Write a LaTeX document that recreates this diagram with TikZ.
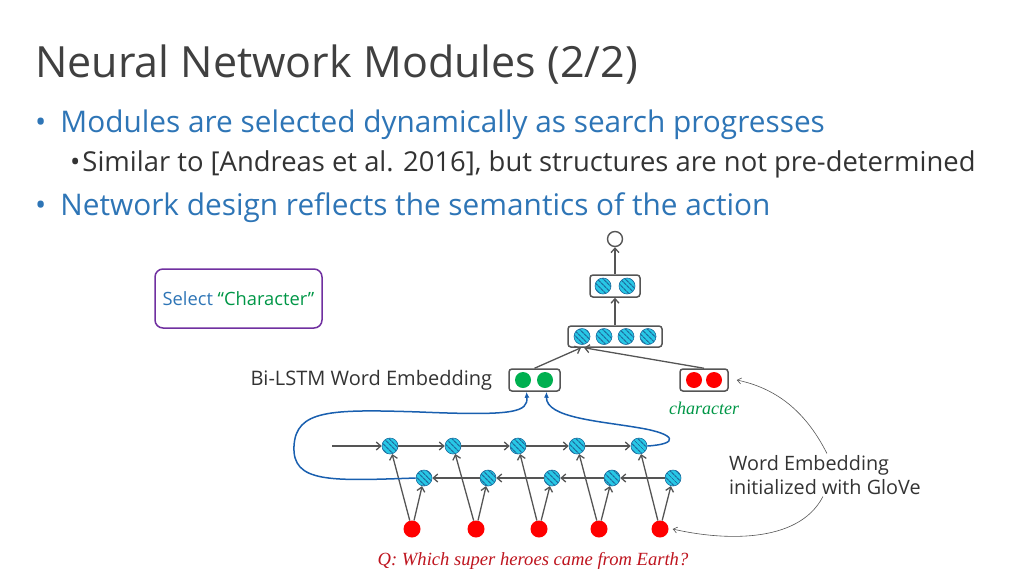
\documentclass[tikz,border=0pt]{standalone}
\usepackage{fontspec}
\setmainfont{Open Sans}
\newfontfamily\timesfont{Liberation Serif}
\usetikzlibrary{arrows.meta,patterns.meta,positioning}

\definecolor{titlegray}{RGB}{64,64,64}
\definecolor{slideblue}{RGB}{46,117,182}
\definecolor{textgray}{RGB}{51,51,51}
\definecolor{linegray}{RGB}{85,85,85}
\definecolor{hcyan}{RGB}{40,200,230}
\definecolor{hstripe}{RGB}{30,110,160}
\definecolor{wordred}{RGB}{255,0,0}
\definecolor{embgreen}{RGB}{0,176,80}
\definecolor{curveblue}{RGB}{25,95,175}
\definecolor{selpurple}{RGB}{112,48,160}
\definecolor{qred}{RGB}{190,20,30}
\definecolor{chargreen}{RGB}{0,150,70}

\tikzset{
  vecbox/.style={draw=linegray, line width=1.5pt, rounded corners=3pt,
    minimum height=22pt, inner sep=0pt},
  hcirc/.style={circle, draw=hstripe, line width=0.6pt, fill=hcyan,
    minimum size=16pt, inner sep=0pt,
    postaction={pattern={Lines[angle=-45,distance=4pt,line width=1.3pt]},
      pattern color=hstripe}},
  rcirc/.style={circle, fill=wordred, minimum size=17pt, inner sep=0pt},
  gcirc/.style={circle, fill=embgreen, minimum size=16pt, inner sep=0pt},
  arr/.style={draw=linegray, line width=1.3pt, -{Straight Barb[length=4.5pt,width=8pt]}},
  thinarr/.style={draw=linegray, line width=0.6pt, -{Straight Barb[length=4pt,width=6pt]}},
  bluearr/.style={draw=curveblue, line width=1.5pt, -{Latex[length=6pt,width=5pt]}},
  bluecurve/.style={draw=curveblue, line width=1.5pt}
}

\begin{document}
\begin{tikzpicture}[x=1pt,y=-1pt]
  \useasboundingbox (0,0) rectangle (1024,576);

  % slide text
  \node[anchor=base west, inner sep=0pt, text=titlegray,
    font=\fontsize{43}{50}\selectfont] (title) at (35,77) {Neural Network Modules (2/2)};
  \node[anchor=base west, inner sep=0pt, text=slideblue,
    font=\fontsize{29.8}{34}\selectfont] (item1) at (35,132) {\textbullet\hspace{14pt}Modules are selected dynamically as search progresses};
  \node[anchor=base west, inner sep=0pt, text=textgray,
    font=\fontsize{27.4}{32}\selectfont] (item2) at (70,171) {\textbullet\hspace{2pt}Similar to [Andreas et al. 2016], but structures are not pre-determined};
  \node[anchor=base west, inner sep=0pt, text=slideblue,
    font=\fontsize{29.8}{34}\selectfont] (item3) at (35,215) {\textbullet\hspace{14pt}Network design reflects the semantics of the action};

  % action box
  \node[draw=selpurple, line width=1.5pt, rounded corners=8pt,
    minimum width=167pt, minimum height=59pt,
    font=\fontsize{18.3}{22}\selectfont] (sel) at (238.5,298.5)
    {\textcolor{slideblue}{Select} \textcolor{chargreen}{\textquotedblleft Character\textquotedblright}};

  % module network
  \node[circle, draw=linegray, line width=1.4pt, minimum size=15pt, inner sep=0pt] (out) at (615,239) {};
  \node[vecbox, minimum width=50pt] (top) at (615,286) {};
  \node[hcirc] (t1) at (603,286) {};
  \node[hcirc] (t2) at (627,286) {};
  \node[vecbox, minimum width=94pt, minimum height=21pt] (mid) at (615,336.5) {};
  \foreach \i/\x in {1/582,2/604,3/626,4/648}
    \node[hcirc] (m\i) at (\x,336.5) {};
  \node[vecbox, minimum width=51pt] (emb) at (534.5,380) {};
  \node[gcirc] (e1) at (523,380) {};
  \node[gcirc] (e2) at (545,380) {};
  \node[vecbox, minimum width=48pt] (wrd) at (704,380) {};
  \node[rcirc, minimum size=16pt] (r1) at (694,380) {};
  \node[rcirc, minimum size=16pt] (r2) at (714,380) {};

  \node[left=16pt of emb, inner sep=0pt, text=textgray,
    font=\fontsize{20}{24}\selectfont] (bilabel) {Bi-LSTM Word Embedding};
  \node[below=10pt of wrd, inner sep=0pt, text=chargreen,
    font=\timesfont\itshape\fontsize{18}{20}\selectfont] (charlabel) {character};

  \draw[arr] (top.north) -- (out.south);
  \draw[arr] (mid.north) -- (top.south);
  \draw[arr] (emb.north) -- ([xshift=-34pt]mid.south);
  \draw[arr] (wrd.north) -- ([xshift=-31pt]mid.south);

  % bi-lstm over the question
  \foreach \i/\x in {1/390,2/453,3/518,4/577,5/639}
    \node[hcirc] (f\i) at (\x,446) {};
  \foreach \i/\x in {1/424,2/488,3/552,4/612,5/673}
    \node[hcirc] (b\i) at (\x,478) {};
  \foreach \i/\x in {1/412,2/476,3/539,4/599,5/660}
    \node[rcirc] (w\i) at (\x,529) {};
  \coordinate (start) at (332,446);

  \draw[arr] (start) -- (f1);
  \foreach \i [evaluate=\i as \j using int(\i+1)] in {1,...,4} {
    \draw[arr] (f\i) -- (f\j);
    \draw[arr] (b\j) -- (b\i);
  }
  \foreach \i in {1,...,5} {
    \draw[arr] (w\i) -- (f\i);
    \draw[arr] (w\i) -- (b\i);
  }

  \draw[bluearr] (b1.west) .. controls (330,481) and (292,483) .. (294,446)
    .. controls (296,410) and (330,409) .. (420,412)
    .. controls (515,416) and (528,412) .. ([xshift=-8pt]emb.south);
  \draw[bluearr] (f5.east) .. controls (680,444) and (676,434) .. (640,428)
    .. controls (600,421) and (546,418) .. ([xshift=12pt]emb.south);

  \node[inner sep=0pt, text=qred, font=\timesfont\itshape\fontsize{18.6}{21}\selectfont]
    (question) at (533,561) {Q: Which super heroes came from Earth?};

  % glove note
  \node[anchor=west, align=left, inner sep=2pt, text=textgray,
    font=\fontsize{19.8}{23.5}\selectfont] (glove) at (727,475)
    {Word Embedding\\initialized with GloVe};
  \draw[thinarr] ([xshift=2pt]glove.north) .. controls (805,410) and (775,388) .. ([xshift=8pt]wrd.east);
  \draw[thinarr] ([xshift=-2pt]glove.south) .. controls (798,545) and (720,540) .. ([xshift=4pt]w5.east);
\end{tikzpicture}
\end{document}
